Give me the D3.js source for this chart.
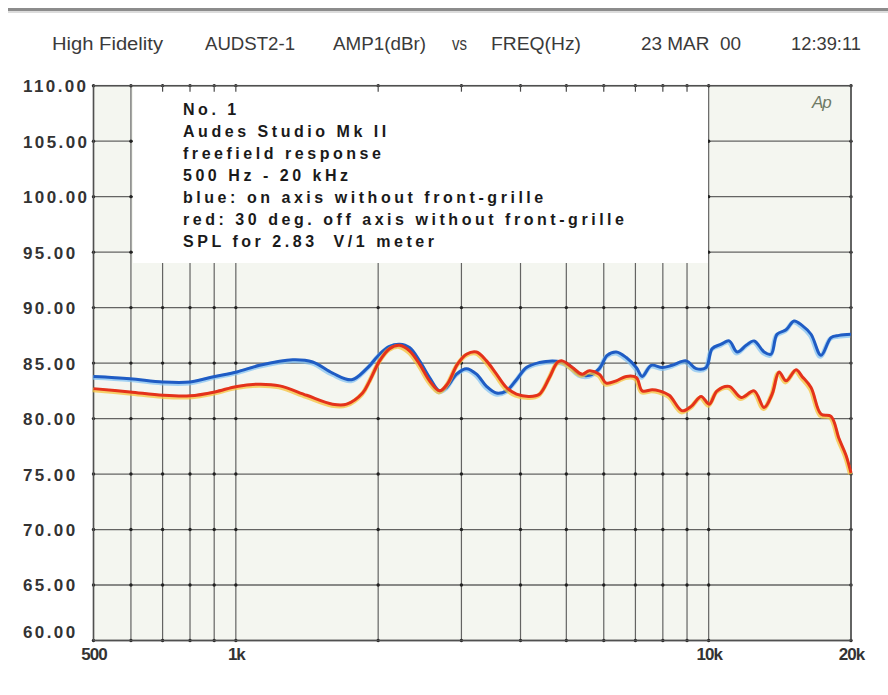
<!DOCTYPE html>
<html>
<head>
<meta charset="utf-8">
<script src="https://cdn.jsdelivr.net/npm/d3@7"></script>
<style>
  html, body { margin: 0; padding: 0; background: #ffffff; }
  svg { display: block; }
</style>
</head>
<body>
<script>
// ---------------- DATA ----------------
const headerItems = ["High Fidelity", "AUDST2-1", "AMP1(dBr)", "vs", "FREQ(Hz)", "23 MAR  00", "12:39:11"];
const legendLines = [
  "No. 1",
  "Audes Studio Mk II",
  "freefield response",
  "500 Hz - 20 kHz",
  "blue: on axis without front-grille",
  "red: 30 deg. off axis without front-grille",
  "SPL for 2.83  V/1 meter"
];
const yTicks = [60, 65, 70, 75, 80, 85, 90, 95, 100, 105, 110];
const xGrid = [500, 600, 700, 800, 900, 1000, 2000, 3000, 4000, 5000, 6000, 7000, 8000, 9000, 10000, 20000];
const xTickValues = [500, 1000, 10000, 20000];
const xTickLabels = ["500", "1k", "10k", "20k"];

const blueFreq = [500, 597, 701, 800, 903, 1005, 1123, 1320, 1454, 1602, 1758, 1891, 2014, 2114, 2220, 2330, 2447, 2569, 2697, 2790, 2929, 3075, 3229, 3390, 3559, 3736, 3922, 4118, 4386, 4672, 4880, 5074, 5327, 5592, 5871, 6103, 6378, 6696, 7030, 7237, 7561, 7977, 8368, 8962, 9413, 9874, 10171, 10631, 11052, 11490, 12004, 12481, 13101, 13552, 13953, 14582, 15160, 15758, 16463, 17284, 18148, 18866, 20000];
const blueDb   = [83.8, 83.6, 83.3, 83.3, 83.8, 84.2, 84.8, 85.3, 85.1, 84.1, 83.5, 84.5, 85.8, 86.5, 86.7, 86.4, 85.2, 83.7, 82.5, 82.8, 84.0, 84.5, 84.0, 82.9, 82.3, 82.5, 83.5, 84.6, 85.05, 85.2, 85.1, 84.8, 84.0, 83.9, 84.5, 85.7, 86.0, 85.5, 84.6, 83.8, 84.8, 84.6, 84.8, 85.2, 84.5, 84.6, 86.3, 86.7, 87.0, 86.0, 86.6, 87.0, 86.0, 85.8, 87.6, 88.0, 88.8, 88.4, 87.6, 85.7, 87.3, 87.5, 87.6];

const redFreq = [500, 597, 701, 800, 903, 1005, 1123, 1238, 1412, 1602, 1716, 1854, 1919, 2014, 2114, 2220, 2330, 2447, 2569, 2697, 2800, 2943, 3075, 3229, 3390, 3559, 3736, 3922, 4178, 4386, 4605, 4787, 4903, 5149, 5401, 5592, 5871, 6074, 6378, 6696, 7030, 7237, 7597, 7861, 8253, 8790, 9186, 9641, 10025, 10422, 11052, 11715, 12481, 13101, 13620, 14089, 14582, 15308, 15758, 16463, 17284, 18148, 18866, 19518, 20000];
const redDb   = [82.7, 82.4, 82.1, 82.05, 82.4, 82.9, 83.1, 82.95, 82.1, 81.3, 81.3, 82.3, 83.4, 85.2, 86.3, 86.6, 86.1, 84.9, 83.4, 82.5, 83.1, 84.9, 85.8, 86.0, 85.2, 84.0, 82.8, 82.2, 82.0, 82.2, 83.7, 85.06, 85.2, 84.6, 84.0, 84.3, 84.0, 83.2, 83.4, 83.8, 83.7, 82.5, 82.6, 82.5, 82.1, 80.7, 81.1, 82.0, 81.3, 82.5, 82.9, 81.9, 82.5, 81.0, 82.2, 84.2, 83.4, 84.4, 83.8, 82.8, 80.4, 80.2, 78.2, 76.7, 75.1];

// ---------------- LAYOUT ----------------
const W = 888, H = 695;
const pL = 93.5, pR = 851, pT = 85.7, pB = 640.5;
const svg = d3.select("body").append("svg").attr("width", W).attr("height", H);

const x = d3.scaleLog().domain([500, 20000]).range([pL, pR]);
const y = d3.scaleLinear().domain([60, 110]).range([pB, pT]);

// top gray rule
svg.append("rect").attr("x", 8).attr("y", 8).attr("width", W - 8).attr("height", 3).attr("fill", "#8c8c8c");
svg.append("rect").attr("x", 8).attr("y", 11).attr("width", W - 8).attr("height", 2).attr("fill", "#dcdcdc");

// header
const headerX = [52, 205, 333, 452, 491, 641, 791];
const headerW = [111, 90, 93, 15, 90, 100, 70];
svg.append("g").selectAll("text").data(headerItems).join("text")
  .attr("x", (d, i) => headerX[i]).attr("y", 50)
  .attr("textLength", (d, i) => headerW[i]).attr("lengthAdjust", "spacingAndGlyphs")
  .attr("font-family", "'Liberation Sans', Arial, sans-serif").attr("font-size", 18)
  .attr("fill", "#3a3a3a").attr("xml:space", "preserve")
  .text(d => d);

// plot background
svg.append("rect").attr("x", pL).attr("y", pT).attr("width", pR - pL).attr("height", pB - pT)
  .attr("fill", "#f4f6f0");

const gridColor = "#4a4a4a";
svg.append("g").selectAll("line").data(xGrid).join("line")
  .attr("x1", d => x(d)).attr("x2", d => x(d)).attr("y1", pT).attr("y2", pB)
  .attr("stroke", gridColor).attr("stroke-width", 1.2).attr("stroke-opacity", 0.85);
svg.append("g").selectAll("line").data(yTicks).join("line")
  .attr("x1", pL).attr("x2", pR).attr("y1", d => y(d)).attr("y2", d => y(d))
  .attr("stroke", gridColor).attr("stroke-width", 1.3).attr("stroke-opacity", 0.85);
const inter = [];
yTicks.forEach(v => xGrid.forEach(f => inter.push([f, v])));
svg.append("g").selectAll("circle").data(inter).join("circle")
  .attr("cx", d => x(d[0])).attr("cy", d => y(d[1])).attr("r", 1.7).attr("fill", "#222");

// legend box
const boxX = 133, boxY = 87, boxW = 575, boxH = 176;
svg.append("rect").attr("x", boxX).attr("y", boxY).attr("width", boxW).attr("height", boxH).attr("fill", "#ffffff");
svg.append("g").selectAll("line").data(xGrid.filter(f => x(f) > boxX && x(f) < boxX + boxW)).join("line")
  .attr("x1", d => x(d)).attr("x2", d => x(d)).attr("y1", pT).attr("y2", pT + 6)
  .attr("stroke", gridColor).attr("stroke-width", 1.2);

// border
svg.append("rect").attr("x", pL).attr("y", pT).attr("width", pR - pL).attr("height", pB - pT)
  .attr("fill", "none").attr("stroke", "#505050").attr("stroke-width", 1.5);

// legend text
const legTexts = svg.append("g").selectAll("text").data(legendLines).join("text")
  .attr("x", 183).attr("y", (d, i) => 114.5 + i * 22.1)
  .attr("font-family", "'Liberation Sans', Arial, sans-serif").attr("font-weight", "bold")
  .attr("font-size", 16).attr("fill", "#1a1a1a").attr("xml:space", "preserve")
  .text(d => d);
const longest = legTexts.filter((d, i) => i === 5).node();
const nat = longest.getComputedTextLength();
const ls = Math.max(0, (441 - nat) / (legendLines[5].length - 1));
legTexts.attr("letter-spacing", ls);

// "Ap" logo
svg.append("text").attr("x", 812).attr("y", 108)
  .attr("font-family", "'Liberation Sans', Arial, sans-serif").attr("font-style", "italic")
  .attr("font-size", 17).attr("fill", "#6f7a66").attr("letter-spacing", -1).text("Ap");

// curves
const line = d3.line().x(d => x(d[0])).y(d => y(d[1])).curve(d3.curveCatmullRom.alpha(0.5));
const blueData = blueFreq.map((f, i) => [f, blueDb[i]]);
const redData = redFreq.map((f, i) => [f, redDb[i]]);

svg.append("path").datum(blueData).attr("d", line).attr("fill", "none")
  .attr("stroke", "#7fc0f2").attr("stroke-width", 4.5).attr("stroke-opacity", 0.7)
  .attr("transform", "translate(-0.8,1.2)");
svg.append("path").datum(blueData).attr("d", line).attr("fill", "none")
  .attr("stroke", "#1f5cc4").attr("stroke-width", 3).attr("stroke-linejoin", "round");

svg.append("path").datum(redData).attr("d", line).attr("fill", "none")
  .attr("stroke", "#f7c23c").attr("stroke-width", 4.5).attr("stroke-opacity", 0.75)
  .attr("transform", "translate(-0.8,1.3)");
svg.append("path").datum(redData).attr("d", line).attr("fill", "none")
  .attr("stroke", "#e4321b").attr("stroke-width", 3).attr("stroke-linejoin", "round");

// y axis labels
const yAxis = svg.append("g").attr("transform", `translate(${pL},0)`)
  .call(d3.axisLeft(y).tickValues(yTicks).tickFormat(d3.format(".2f")).tickSize(0));
yAxis.select(".domain").remove();
yAxis.selectAll("text")
  .attr("text-anchor", "start").attr("x", 23 - pL).attr("dy", "0.35em")
  .attr("y", d => d === 60 ? -9 : 0)
  .attr("font-family", "'Liberation Sans', Arial, sans-serif").attr("font-weight", "bold")
  .attr("font-size", 17).attr("letter-spacing", 2.4).attr("fill", "#333");

// x axis labels
const xAxis = svg.append("g").attr("transform", `translate(0,${pB})`)
  .call(d3.axisBottom(x).tickValues(xTickValues).tickFormat((d, i) => xTickLabels[i]).tickSize(0));
xAxis.select(".domain").remove();
xAxis.selectAll("text").attr("y", 7)
  .attr("font-family", "'Liberation Sans', Arial, sans-serif").attr("font-weight", "bold")
  .attr("font-size", 17).attr("letter-spacing", -1).attr("fill", "#333");
</script>
</body>
</html>
